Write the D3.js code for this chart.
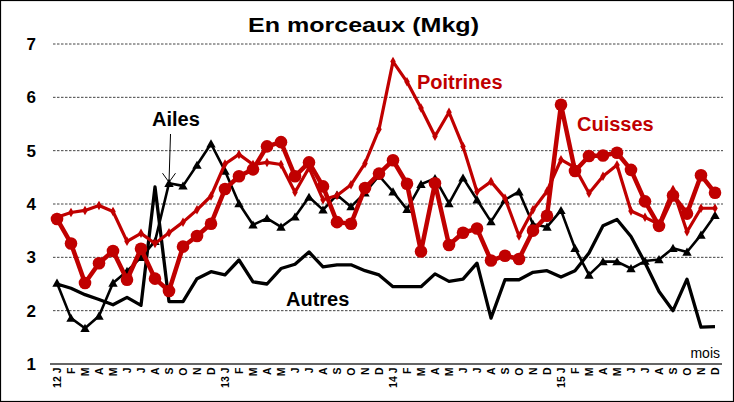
<!DOCTYPE html>
<html>
<head>
<meta charset="utf-8">
<script src="https://cdn.jsdelivr.net/npm/d3@7"></script>
<style>
  html, body { margin: 0; padding: 0; background: #fff; }
  svg { display: block; font-family: Arial, "Liberation Sans", sans-serif; }
</style>
</head>
<body>
<svg id="chart" width="734" height="402"></svg>
<script>
// ---- data ----
const months = ["J","F","M","A","M","J","J","A","S","O","N","D"];
const years = ["12","13","14","15"];
const yTicks = [1,2,3,4,5,6,7];

const ailes = [2.52,1.86,1.67,1.90,2.52,2.74,3.00,3.30,4.39,4.34,4.73,5.13,
               4.62,4.01,3.61,3.73,3.57,3.76,4.13,3.89,4.17,3.95,4.21,4.53,
               4.23,3.90,4.37,4.48,4.01,4.49,4.08,3.67,4.08,4.23,3.62,3.57,
               3.88,3.17,2.67,2.92,2.92,2.79,2.93,2.96,3.17,3.10,3.42,3.79];
const autres = [2.50,2.42,2.30,2.21,2.11,2.25,2.10,4.32,2.17,2.17,2.60,2.73,
                2.67,2.95,2.54,2.50,2.79,2.87,3.10,2.82,2.86,2.86,2.75,2.67,
                2.45,2.45,2.45,2.69,2.55,2.59,2.89,1.86,2.58,2.58,2.72,2.75,
                2.63,2.75,3.08,3.59,3.71,3.39,2.90,2.36,2.00,2.59,1.69,1.70];
const poitrines = [3.75,3.84,3.88,3.97,3.86,3.30,3.45,3.26,3.46,3.66,3.89,4.15,
                   4.75,4.93,4.74,4.78,4.74,4.22,4.68,4.08,4.16,4.36,4.76,5.40,
                   6.67,6.29,5.80,5.27,5.72,5.08,4.23,4.42,4.11,3.40,3.89,4.24,
                   4.83,4.68,4.20,4.52,4.73,3.87,3.75,3.62,4.27,3.48,3.92,3.92];
const cuisses = [3.72,3.26,2.52,2.89,3.12,2.58,3.16,2.60,2.37,3.20,3.40,3.63,
                 4.28,4.52,4.65,5.08,5.16,4.52,4.78,4.33,3.66,3.63,4.30,4.57,
                 4.82,4.38,3.11,4.39,3.23,3.46,3.54,2.94,3.03,2.97,3.50,3.78,
                 5.86,4.62,4.90,4.91,4.96,4.64,4.05,3.59,4.16,3.82,4.54,4.21];

const categories = [];
years.forEach(y => months.forEach((m, i) => categories.push(i === 0 ? y + " " + m : m)));

// ---- layout ----
const RED = "#c00000";
const svg = d3.select("#chart");
const x = d3.scalePoint().domain(d3.range(categories.length)).range([50, 722]).padding(0.5);
const y = d3.scaleLinear().domain([1, 7]).range([364, 44]);

// border
svg.append("rect").attr("x", 0.5).attr("y", 0.5).attr("width", 733).attr("height", 401)
  .attr("fill", "#fff").attr("stroke", "#000").attr("stroke-width", 1.2);

// gridlines
svg.append("g").selectAll("line").data(yTicks.filter(t => t > 1)).join("line")
  .attr("x1", 53).attr("x2", 723)
  .attr("y1", d => y(d)).attr("y2", d => y(d))
  .attr("stroke", "#444").attr("stroke-width", 1).attr("stroke-dasharray", "2.5,1.5");

// y axis labels
const yAxis = svg.append("g").attr("transform", "translate(36,0)")
  .call(d3.axisLeft(y).tickValues(yTicks).tickSize(0).tickPadding(0).tickFormat(d3.format("d")));
yAxis.select(".domain").remove();
yAxis.selectAll("text").attr("font-size", 17).attr("font-weight", "bold")
  .attr("font-family", "Arial, 'Liberation Sans', sans-serif").attr("fill", "#000");

// x axis
const xAxis = svg.append("g").attr("transform", "translate(0,364)")
  .call(d3.axisBottom(x).tickSize(0).tickFormat(i => categories[i]));
xAxis.select(".domain").attr("d", "M50,0H722").attr("stroke", "#333").attr("stroke-width", 1.6);
xAxis.selectAll("text")
  .attr("font-size", 10.5).attr("font-weight", "bold")
  .attr("font-family", "Arial, 'Liberation Sans', sans-serif").attr("fill", "#000")
  .attr("text-anchor", "end")
  .attr("transform", "rotate(-90)")
  .attr("x", -3.5).attr("y", 0).attr("dy", "0.36em");

svg.append("text").attr("x", 720).attr("y", 358).attr("text-anchor", "end")
  .attr("font-size", 14).text("mois");

// title
svg.append("text").attr("x", 248).attr("y", 32).attr("font-size", 21).attr("font-weight", "bold")
  .attr("textLength", 231).attr("lengthAdjust", "spacingAndGlyphs")
  .text("En morceaux (Mkg)");

const line = d3.line().x((d, i) => x(i)).y(d => y(d)).curve(d3.curveLinear);

// Autres
svg.append("path").datum(autres).attr("d", line).attr("fill", "none")
  .attr("stroke", "#000").attr("stroke-width", 3.3).attr("stroke-linejoin", "round");

// Ailes
svg.append("path").datum(ailes).attr("d", line).attr("fill", "none")
  .attr("stroke", "#000").attr("stroke-width", 2.6).attr("stroke-linejoin", "round");
const tri = d3.symbol().type(d3.symbolTriangle).size(38);
svg.append("g").selectAll("path").data(ailes).join("path")
  .attr("d", tri).attr("transform", (d, i) => `translate(${x(i)},${y(d) + 1})`).attr("fill", "#000");

// Poitrines
svg.append("path").datum(poitrines).attr("d", line).attr("fill", "none")
  .attr("stroke", RED).attr("stroke-width", 3.2).attr("stroke-linejoin", "round");
const dia = d3.symbol().type(d3.symbolDiamond).size(26);
svg.append("g").selectAll("path").data(poitrines).join("path")
  .attr("d", dia).attr("transform", (d, i) => `translate(${x(i)},${y(d)})`).attr("fill", RED);

// Cuisses
svg.append("path").datum(cuisses).attr("d", line).attr("fill", "none")
  .attr("stroke", RED).attr("stroke-width", 4.5).attr("stroke-linejoin", "round");
svg.append("g").selectAll("circle").data(cuisses).join("circle")
  .attr("cx", (d, i) => x(i)).attr("cy", d => y(d)).attr("r", 6.3).attr("fill", RED);

// series labels
const lab = (t, lx, ly, c) => svg.append("text").attr("x", lx).attr("y", ly)
  .attr("font-size", 20).attr("font-weight", "bold").attr("fill", c).text(t);
lab("Ailes", 152, 126, "#000");
lab("Poitrines", 417, 89, RED);
lab("Cuisses", 577, 131, RED);
lab("Autres", 286, 306, "#000");

// arrow for Ailes
const ax = x(8), ay = y(ailes[8]) - 1;
svg.append("path").attr("d", `M${ax + 1.5},134L${ax},${ay}`).attr("stroke", "#000").attr("stroke-width", 1).attr("fill", "none");
svg.append("path").attr("d", `M${ax - 6.5},${ay - 9}L${ax},${ay}L${ax + 6.5},${ay - 9}`)
  .attr("stroke", "#000").attr("stroke-width", 1).attr("fill", "none");
</script>
</body>
</html>
